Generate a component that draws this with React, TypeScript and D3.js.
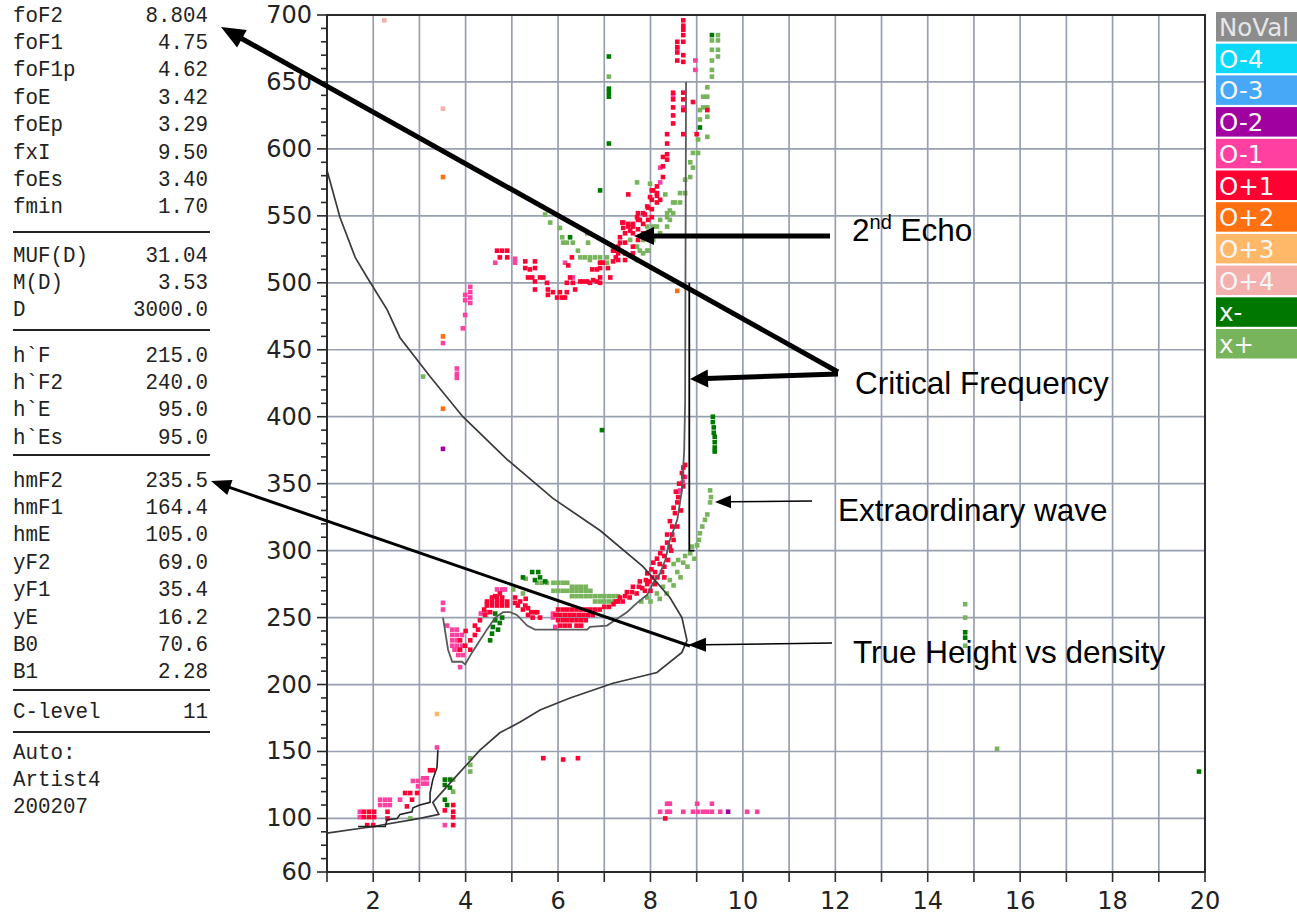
import { useEffect, useRef } from 'react';
import * as d3 from 'd3';

type Pt = [number, number];

// axis values
const xTickLabels = [2, 4, 6, 8, 10, 12, 14, 16, 18, 20];
const yTickLabels = [60, 100, 150, 200, 250, 300, 350, 400, 450, 500, 550, 600, 650, 700];
const xGridValues = [2, 3, 4, 5, 6, 7, 8, 9, 10, 11, 12, 13, 14, 15, 16, 17, 18, 19];
const yGridValues = [100, 150, 200, 250, 300, 350, 400, 450, 500, 550, 600, 650];

// legend
const legendItems = ['NoVal', 'O-4', 'O-3', 'O-2', 'O-1', 'O+1', 'O+2', 'O+3', 'O+4', 'x-', 'x+'];
const legendColors = ['#8c8c8c', '#0cd8f8', '#48a8f8', '#a000a0', '#ff40a0', '#ff0033', '#ff7010', '#ffb868', '#f4b0ac', '#007800', '#78b45c'];

// echoes, [frequency MHz, virtual height km]
const oMinus2: Pt[] = [[3.51, 376], [9.68, 105]];
const oPlus2: Pt[] = [[3.51, 579], [3.51, 460], [3.51, 406], [8.58, 494]];
const oPlus3: Pt[] = [[3.38, 178]];
const oPlus4: Pt[] = [[2.24, 696], [3.51, 630]];

const oMinus1: Pt[] = [
  [1.71, 105], [1.71, 101], [2.15, 114], [2.26, 114], [2.36, 114], [2.15, 110], [2.26, 110], [2.36, 110],
  [2.58, 114], [2.86, 128], [2.97, 128], [3.08, 130], [3.16, 130], [3.08, 126], [3.16, 126], [2.97, 124],
  [3.38, 153], [3.55, 95],
  [3.51, 261], [3.51, 256], [3.6, 244], [3.71, 241], [3.81, 241], [3.71, 237], [3.81, 237], [3.92, 237],
  [3.71, 233], [3.81, 233], [3.71, 229], [3.81, 229], [3.92, 229], [3.76, 226], [3.86, 226], [3.84, 222],
  [3.94, 222], [3.88, 213], [4.33, 253], [4.44, 254], [4.68, 271], [4.79, 271], [4.85, 271],
  [5.89, 253], [5.89, 250], [5.94, 243], [8.75, 355], [8.64, 345], [8.7, 351], [8.6, 344],
  [4.1, 497], [4.1, 493], [4.1, 489], [4.1, 485], [3.99, 491], [3.99, 487], [3.99, 476], [3.94, 466],
  [3.81, 436], [3.81, 432], [3.81, 429], [3.51, 455],
  [4.64, 515], [5.07, 518], [5.07, 515], [6.15, 515], [6.32, 504], [8.58, 675], [8.97, 666], [8.97, 659],
  [8.49, 640], [8.71, 631], [8.21, 586], [8.21, 575],
  [8.36, 111], [8.42, 111], [8.21, 105], [8.36, 105], [8.42, 105], [8.71, 105], [8.92, 105], [9.03, 105],
  [9.14, 105], [9.23, 105], [9.33, 105], [9.51, 105], [9.01, 111], [9.33, 111], [10.09, 105], [10.31, 105],
];

const oPlus1: Pt[] = [
  [1.8, 105], [1.91, 105], [2.02, 105], [1.8, 101], [1.91, 101], [2.02, 101], [1.87, 95], [2.0, 95],
  [2.31, 105], [2.31, 100], [2.69, 119], [2.8, 119], [2.84, 114], [2.95, 119], [2.73, 109], [3.23, 136],
  [3.29, 136], [3.55, 106], [3.73, 110], [3.73, 105], [3.73, 101], [3.73, 95], [8.32, 100],
  [5.68, 145], [6.11, 144], [6.43, 145],
  [3.88, 233], [3.99, 229], [4.1, 226], [3.88, 226], [4.1, 233], [4.2, 237], [4.27, 241], [4.31, 248],
  [4.42, 252], [4.53, 254],
  [4.46, 262], [4.57, 262], [4.68, 262], [4.79, 262], [4.9, 262], [4.57, 265], [4.68, 265], [4.79, 265],
  [4.46, 259], [4.57, 259], [4.68, 259], [4.79, 259], [4.9, 259],
  [5.07, 265], [5.07, 261], [5.13, 259], [5.29, 259], [5.35, 257], [5.42, 254], [5.5, 254], [5.55, 254],
  [5.61, 250], [5.18, 262], [5.24, 256], [5.35, 252], [5.45, 250], [5.3, 264],
  [6.0, 256], [6.1, 256], [6.2, 256], [6.3, 256], [6.4, 256], [6.5, 256], [6.6, 256], [6.7, 256], [6.8, 256], [6.9, 256],
  [5.95, 252], [6.05, 252], [6.15, 252], [6.25, 252], [6.35, 252], [6.45, 252], [6.55, 252], [6.65, 252], [6.75, 252],
  [6.0, 248], [6.1, 248], [6.2, 248], [6.3, 248], [6.4, 248], [6.5, 248], [6.6, 248],
  [6.05, 244], [6.15, 244], [6.25, 244], [6.4, 244], [6.5, 244], [7.0, 258], [7.1, 258], [7.2, 260], [7.3, 262],
  [7.34, 265], [7.49, 269], [7.62, 273], [7.77, 277], [7.93, 283], [8.06, 291], [8.21, 298], [8.36, 306],
  [7.4, 262], [7.55, 265], [7.7, 268], [7.82, 272], [7.98, 277], [8.1, 284], [8.2, 290], [8.3, 296],
  [8.42, 303], [8.47, 312], [8.47, 318], [8.53, 328], [8.58, 336], [8.6, 340], [8.71, 348], [8.71, 355],
  [8.71, 362], [8.75, 364], [8.68, 358], [8.0, 270], [8.1, 275], [8.15, 280], [8.3, 288], [8.38, 293],
  [8.45, 300], [7.88, 270], [7.93, 275], [8.04, 280], [8.25, 284], [8.3, 280],
  [7.25, 262], [7.45, 266], [7.6, 269], [7.75, 273], [7.9, 278], [8.02, 286], [8.14, 294], [8.26, 302],
  [8.36, 312], [8.42, 322], [8.5, 332], [8.55, 344], [8.62, 350], [8.66, 330], [8.58, 318], [8.5, 308],
  [4.64, 266], [4.74, 268], [4.4, 256], [4.2, 244], [4.0, 240],
  [4.68, 524], [4.79, 524], [4.9, 524], [4.74, 519], [4.9, 519],
  [5.29, 516], [5.29, 511], [5.39, 510], [5.5, 516], [5.5, 511], [5.35, 504], [5.44, 504], [5.5, 501],
  [5.5, 495], [5.61, 504], [5.68, 504], [5.76, 500], [5.78, 495], [5.78, 491], [5.89, 493], [5.98, 489],
  [6.04, 493], [6.09, 489], [6.15, 489], [6.19, 500], [6.19, 493], [6.3, 519], [6.22, 513], [6.26, 504],
  [6.32, 500], [6.37, 495], [6.48, 501], [6.54, 501], [6.63, 501], [6.69, 500], [6.76, 502], [6.84, 501],
  [6.91, 500], [6.74, 510], [6.84, 510], [6.91, 511], [6.91, 515], [6.97, 515], [6.91, 504], [7.13, 504],
  [7.08, 511],
  [7.28, 524], [7.34, 530], [7.34, 534], [7.41, 541], [7.41, 545], [7.52, 544], [7.56, 539], [7.62, 544],
  [7.62, 537], [7.71, 549], [7.73, 552], [7.77, 547], [7.88, 551], [7.93, 557], [7.99, 564], [8.06, 569],
  [8.14, 567], [8.21, 562], [8.27, 579], [8.36, 596],
  [8.71, 696], [8.71, 692], [8.71, 689], [8.71, 685], [8.71, 680], [8.58, 680], [8.58, 676], [8.58, 672],
  [8.71, 670], [8.71, 665], [8.58, 666], [8.49, 642], [8.49, 637], [8.49, 631], [8.49, 625], [8.49, 619],
  [8.71, 642], [8.71, 637], [8.71, 629], [8.92, 635], [8.71, 611], [9.0, 611], [9.23, 629], [8.36, 611],
  [8.36, 604], [8.36, 592], [8.27, 594], [8.27, 587], [8.14, 572], [8.14, 565], [8.14, 560], [8.03, 569],
  [8.03, 562], [8.03, 555], [8.03, 549], [7.95, 556], [7.95, 547], [7.84, 552], [7.84, 544], [7.84, 537],
  [7.73, 547], [7.73, 540], [7.73, 532], [7.62, 542], [7.62, 527], [7.62, 522], [7.52, 542], [7.45, 537],
  [7.45, 530], [7.45, 522], [7.45, 517], [7.39, 545], [7.3, 527], [7.3, 522], [7.3, 517], [7.19, 524],
  [7.25, 519], [7.19, 516], [7.52, 566],
];

const xMinus: Pt[] = [
  [3.55, 129], [3.66, 129], [3.55, 125], [3.66, 123], [3.55, 114], [3.6, 110],
  [4.64, 253], [4.64, 248], [4.59, 243], [4.57, 238], [4.53, 233], [4.79, 250], [4.74, 246], [4.7, 241],
  [5.24, 280], [5.44, 284], [5.57, 284], [5.72, 277], [5.61, 280], [5.5, 278],
  [9.35, 400], [9.35, 396], [9.37, 392], [9.37, 388], [9.39, 385], [9.39, 381], [9.39, 377], [9.39, 374],
  [6.95, 390], [19.87, 135], [14.81, 239], [14.81, 235],
  [6.26, 534], [6.91, 569], [9.07, 616], [7.1, 669], [7.1, 645], [7.1, 642], [7.1, 639], [7.1, 604], [9.33, 685],
];

const xPlus: Pt[] = [
  [3.73, 129], [3.73, 120], [4.1, 145], [4.1, 140], [4.1, 135], [2.8, 100], [3.08, 430],
  [5.03, 271], [5.24, 268], [5.3, 279],
  [5.55, 276], [5.65, 276], [5.76, 276], [5.9, 276], [6.0, 276], [6.1, 276], [6.2, 276],
  [6.3, 273], [6.4, 273], [6.5, 273], [6.6, 273],
  [5.9, 270], [6.0, 270], [6.1, 270], [6.2, 270], [6.3, 270], [6.4, 270], [6.5, 270], [6.6, 270], [6.7, 270],
  [6.3, 266], [6.4, 266], [6.5, 266], [6.6, 266], [6.7, 266], [6.8, 266], [6.9, 266], [7.0, 266], [7.1, 266],
  [7.2, 266], [7.3, 266], [6.8, 262], [6.9, 262], [7.0, 262], [7.1, 262], [7.2, 262],
  [7.93, 265], [8.14, 268], [8.27, 273], [8.42, 278], [8.58, 284], [8.71, 291], [8.86, 298], [9.01, 304],
  [7.8, 262], [8.0, 262], [8.2, 264], [8.35, 268], [8.5, 274], [8.65, 280], [8.8, 288], [8.95, 294],
  [9.07, 313], [9.12, 318], [9.18, 323], [9.23, 327], [9.29, 336], [9.31, 340], [9.29, 345],
  [8.5, 290], [8.6, 293], [8.75, 296], [8.9, 303], [9.05, 308],
  [14.81, 260], [14.81, 250], [14.81, 229], [15.5, 152],
  [9.46, 685], [9.33, 681], [9.33, 674], [9.33, 666], [9.33, 659], [9.33, 654], [9.46, 681], [9.46, 674],
  [9.46, 669], [9.23, 646], [9.23, 639], [9.23, 631], [9.23, 624], [9.23, 609], [9.14, 639], [9.14, 631],
  [9.07, 629], [9.07, 622], [9.03, 607], [9.03, 597], [8.92, 597], [8.92, 586], [8.86, 590], [8.86, 579],
  [8.75, 577], [8.75, 567], [8.64, 567], [8.64, 560], [8.49, 560], [8.49, 552], [8.42, 554], [8.42, 547],
  [8.36, 549], [8.36, 542], [8.21, 547], [8.21, 537], [8.06, 542], [8.06, 532], [7.93, 542], [7.93, 533],
  [7.93, 524], [7.84, 532], [7.84, 522], [7.71, 527], [7.71, 517],
  [5.72, 551], [5.83, 545], [6.04, 541], [6.09, 534], [6.11, 530], [6.19, 530], [6.32, 530], [6.43, 524],
  [6.63, 537], [6.65, 530], [6.48, 519], [6.58, 519], [6.69, 519], [6.8, 519], [6.91, 519], [7.06, 519],
  [6.91, 515], [7.06, 515], [6.69, 517],
  [7.71, 575], [7.99, 574], [8.32, 566], [8.53, 560], [8.36, 552], [8.14, 542], [7.95, 538], [7.95, 524],
  [7.77, 524], [7.67, 527], [7.56, 532], [7.1, 654],
];

// fitted curves
const trueHeight: Pt[] = [
  [1.0, 584], [1.28, 549], [1.61, 519], [1.87, 504], [2.3, 480], [2.58, 459], [3.23, 430], [3.94, 400],
  [4.9, 368], [5.89, 339], [6.91, 315], [7.84, 288], [8.42, 265], [8.68, 250], [8.79, 233], [8.68, 224],
  [8.14, 209], [7.19, 201], [6.26, 190], [5.61, 181], [5.18, 172], [4.74, 164], [4.31, 151], [3.73, 129],
  [3.29, 112], [3.42, 103], [3.01, 100], [2.0, 94], [1.0, 89],
];
const fTrace: Pt[] = [
  [3.51, 250], [3.62, 226], [3.71, 217], [3.92, 217], [3.99, 215], [4.14, 224], [4.31, 233], [4.46, 241],
  [4.64, 250], [4.81, 254], [4.96, 254], [5.11, 252], [5.33, 244], [5.5, 241], [6.63, 241], [6.69, 243],
  [7.06, 244], [7.19, 247], [7.49, 254], [7.71, 261], [7.93, 267], [8.06, 276], [8.21, 283], [8.32, 293],
  [8.42, 308], [8.58, 323], [8.68, 345], [8.73, 375], [8.75, 412], [8.77, 650],
];
const eTrace: Pt[] = [
  [3.4, 151], [3.38, 138], [3.29, 129], [3.23, 119], [3.23, 112], [3.01, 110], [2.86, 108], [2.84, 105],
  [2.58, 103], [2.52, 100], [2.3, 99], [2.26, 94], [1.67, 94],
];
const xTrace: Pt[] = [[8.84, 500], [8.84, 300], [8.95, 300]];

// scaled parameters panel
const panelGroups: [string, string][][] = [
  [['foF2', '8.804'], ['foF1', '4.75'], ['foF1p', '4.62'], ['foE', '3.42'], ['foEp', '3.29'], ['fxI', '9.50'], ['foEs', '3.40'], ['fmin', '1.70']],
  [['MUF(D)', '31.04'], ['M(D)', '3.53'], ['D', '3000.0']],
  [['h`F', '215.0'], ['h`F2', '240.0'], ['h`E', '95.0'], ['h`Es', '95.0']],
  [['hmF2', '235.5'], ['hmF1', '164.4'], ['hmE', '105.0'], ['yF2', '69.0'], ['yF1', '35.4'], ['yE', '16.2'], ['B0', '70.6'], ['B1', '2.28']],
  [['C-level', '11']],
  [['Auto:', ''], ['Artist4', ''], ['200207', '']],
];
const panelStarts = [16, 256, 356, 481, 712, 753];
const panelRules = [232, 330, 455, 690, 732];

// annotations (page pixels)
const arrows = [
  { x1: 838, y1: 372, x2: 221, y2: 27, w: 5, hl: 24, hw: 20 },
  { x1: 838, y1: 374, x2: 690, y2: 379, w: 5, hl: 18, hw: 18 },
  { x1: 830, y1: 236, x2: 634, y2: 236, w: 5, hl: 20, hw: 18 },
  { x1: 812, y1: 501, x2: 715, y2: 502, w: 1.5, hl: 16, hw: 13 },
  { x1: 832, y1: 643, x2: 688, y2: 645, w: 1.5, hl: 18, hw: 14 },
  { x1: 690, y1: 646, x2: 211, y2: 481, w: 3, hl: 20, hw: 16 },
];
const notes = [
  { text: 'Critical Frequency', x: 855, y: 383 },
  { text: 'Extraordinary wave', x: 838, y: 510 },
  { text: 'True Height vs density', x: 853, y: 652 },
];

const App = () => {
  const svgRef = useRef<SVGSVGElement>(null);

  useEffect(() => {
    const svg = d3.select(svgRef.current);
    svg.selectAll('*').remove();

    const left = 327, right = 1205, top = 15, bottom = 872;
    const x = d3.scaleLinear().domain([1, 20]).range([left, right]);
    const y = d3.scaleLinear().domain([60, 700]).range([bottom, top]);

    // grid
    const grid = svg.append('g').attr('stroke', '#989fb1').attr('stroke-width', 1.7);
    grid.selectAll('.gx').data(xGridValues).join('line')
      .attr('x1', (d) => x(d)).attr('x2', (d) => x(d)).attr('y1', top).attr('y2', bottom);
    grid.selectAll('.gy').data(yGridValues).join('line')
      .attr('x1', left).attr('x2', right).attr('y1', (d) => y(d)).attr('y2', (d) => y(d));

    // echoes
    const series: [Pt[], string][] = [
      [xPlus, legendColors[10]],
      [xMinus, legendColors[9]],
      [oMinus1, legendColors[4]],
      [oPlus1, legendColors[5]],
      [oPlus4, legendColors[8]],
      [oPlus3, legendColors[7]],
      [oPlus2, legendColors[6]],
      [oMinus2, legendColors[3]],
    ];
    const s = 4.6;
    series.forEach(([pts, color]) => {
      svg.append('g').selectAll('rect').data(pts).join('rect')
        .attr('x', (d) => x(d[0]) - s / 2)
        .attr('y', (d) => y(d[1]) - s / 2)
        .attr('width', s)
        .attr('height', s)
        .attr('fill', color);
    });

    // fitted traces
    const line = d3.line<Pt>().x((d) => x(d[0])).y((d) => y(d[1]));
    svg.append('path').datum(fTrace).attr('d', line).attr('fill', 'none').attr('stroke', '#5a5a5a').attr('stroke-width', 1.8);
    svg.append('path').datum(trueHeight).attr('d', line).attr('fill', 'none').attr('stroke', '#3a3a3a').attr('stroke-width', 1.7);
    svg.append('path').datum(eTrace).attr('d', line).attr('fill', 'none').attr('stroke', '#222').attr('stroke-width', 1.6);
    svg.append('path').datum(xTrace).attr('d', line).attr('fill', 'none').attr('stroke', '#000').attr('stroke-width', 1.8);

    // frame and axes
    const axisColor = '#2a2a2a';
    svg.append('rect').attr('x', left).attr('y', top).attr('width', right - left).attr('height', bottom - top)
      .attr('fill', 'none').attr('stroke', axisColor).attr('stroke-width', 2);

    svg.append('g').selectAll('line').data(d3.range(1, 21)).join('line')
      .attr('x1', (d) => x(d)).attr('x2', (d) => x(d)).attr('y1', bottom).attr('y2', bottom + 10)
      .attr('stroke', axisColor).attr('stroke-width', 1.6);
    svg.append('g').selectAll('text').data(xTickLabels).join('text')
      .attr('x', (d) => x(d)).attr('y', bottom + 29)
      .attr('text-anchor', 'middle').attr('dominant-baseline', 'central')
      .attr('font-family', 'DejaVu Sans, Verdana, sans-serif').attr('font-size', 24).attr('fill', '#222')
      .text((d) => d);

    svg.append('g').selectAll('line').data(d3.range(60, 701, 10)).join('line')
      .attr('x1', (d) => (d % 50 === 0 || d === 60 ? left - 10 : left - 6)).attr('x2', left)
      .attr('y1', (d) => y(d)).attr('y2', (d) => y(d))
      .attr('stroke', axisColor).attr('stroke-width', 1.6);
    svg.append('g').selectAll('text').data(yTickLabels).join('text')
      .attr('x', left - 15).attr('y', (d) => y(d))
      .attr('text-anchor', 'end').attr('dominant-baseline', 'central')
      .attr('font-family', 'DejaVu Sans, Verdana, sans-serif').attr('font-size', 24).attr('fill', '#222')
      .text((d) => d);

    // legend
    const lg = svg.append('g');
    legendItems.forEach((item, i) => {
      const ly = 12 + i * 31.7;
      lg.append('rect').attr('x', 1216).attr('y', ly).attr('width', 90).attr('height', 29.5).attr('fill', legendColors[i]);
      lg.append('text').attr('x', 1219).attr('y', ly + 15.5).attr('dominant-baseline', 'central')
        .attr('font-family', 'DejaVu Sans, Verdana, sans-serif').attr('font-size', 24.5)
        .attr('fill', i === 0 ? '#e6e6e6' : '#f6f6f6').text(item);
    });

    // parameters panel
    const panel = svg.append('g').attr('font-family', 'Liberation Mono, Courier New, monospace').attr('fill', '#222');
    const step = 27.4;
    panelGroups.forEach((rows, gi) => {
      rows.forEach(([label, value], ri) => {
        const ty = panelStarts[gi] + ri * step;
        panel.append('text').attr('x', 13).attr('y', ty).attr('dominant-baseline', 'central')
          .attr('font-size', 22).attr('textLength', label.length * 12.5).attr('lengthAdjust', 'spacingAndGlyphs').text(label);
        if (value) {
          panel.append('text').attr('x', 208 - value.length * 12.5).attr('y', ty).attr('dominant-baseline', 'central')
            .attr('font-size', 22).attr('textLength', value.length * 12.5).attr('lengthAdjust', 'spacingAndGlyphs').text(value);
        }
      });
    });
    panel.selectAll('.rule').data(panelRules).join('line')
      .attr('x1', 13).attr('x2', 210).attr('y1', (d) => d).attr('y2', (d) => d)
      .attr('stroke', '#222').attr('stroke-width', 1.8);

    // annotation arrows
    arrows.forEach((a) => {
      const dx = a.x2 - a.x1, dy = a.y2 - a.y1;
      const len = Math.hypot(dx, dy);
      const ux = dx / len, uy = dy / len;
      const bx = a.x2 - ux * a.hl, by = a.y2 - uy * a.hl;
      svg.append('line').attr('x1', a.x1).attr('y1', a.y1).attr('x2', bx + ux * 2).attr('y2', by + uy * 2)
        .attr('stroke', '#000').attr('stroke-width', a.w);
      svg.append('polygon')
        .attr('points', `${a.x2},${a.y2} ${bx - (uy * a.hw) / 2},${by + (ux * a.hw) / 2} ${bx + (uy * a.hw) / 2},${by - (ux * a.hw) / 2}`)
        .attr('fill', '#000');
    });

    const noteFont = 'Liberation Sans, Arial, sans-serif';
    svg.append('g').selectAll('text').data(notes).join('text')
      .attr('x', (d) => d.x).attr('y', (d) => d.y).attr('dominant-baseline', 'central')
      .attr('font-family', noteFont).attr('font-size', 31.5).attr('fill', '#000')
      .text((d) => d.text);

    const echo = svg.append('text').attr('x', 852).attr('y', 241)
      .attr('font-family', noteFont).attr('font-size', 31.5).attr('fill', '#000');
    echo.append('tspan').text('2');
    echo.append('tspan').attr('font-size', 20).attr('dy', -12).text('nd');
    echo.append('tspan').attr('dy', 12).text(' Echo');
  }, []);

  return (
    <svg
      ref={svgRef}
      width={1297}
      height={917}
      style={{ position: 'absolute', left: 0, top: 0, background: '#fff' }}
    />
  );
};

export default App;
